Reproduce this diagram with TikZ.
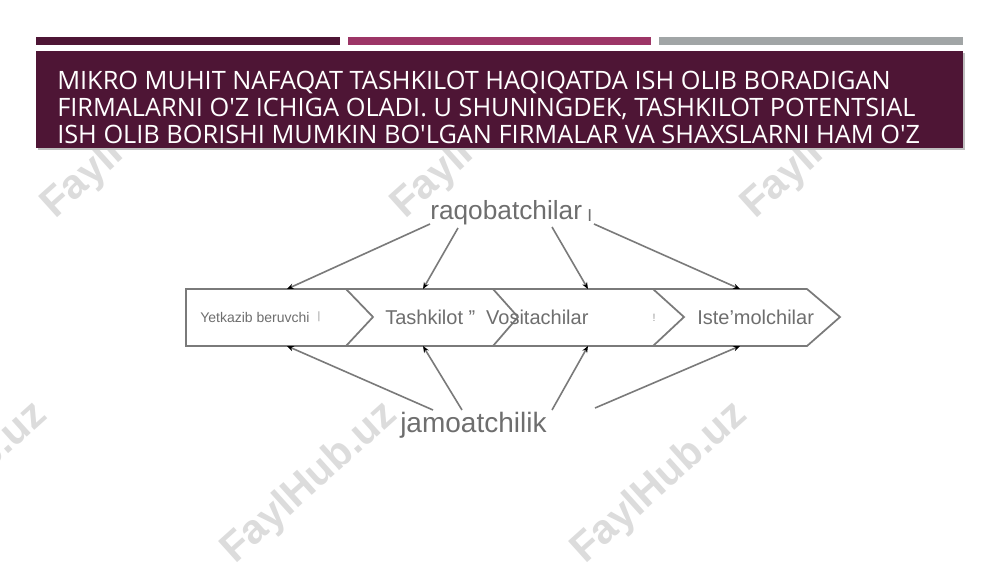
\documentclass[tikz,border=0pt]{standalone}
\usepackage{fontspec}
\setmainfont{Liberation Sans}
\newfontfamily\titlefont{Open Sans}
\newfontfamily\wmfont{Liberation Sans}
\usetikzlibrary{arrows.meta}
\definecolor{maroon}{HTML}{4E1535}
\definecolor{magbar}{HTML}{9C3566}
\definecolor{graybar}{HTML}{A1A5A6}
\definecolor{linegray}{HTML}{7A7A7A}
\definecolor{txtgray}{HTML}{6E6E6E}
\definecolor{wmgray}{HTML}{DCDCDC}
\tikzset{
  wm/.style={anchor=base west, rotate=42, text=wmgray, font=\wmfont\bfseries\fontsize{31}{31}\selectfont, inner sep=0pt},
  bigword/.style={text=txtgray, inner sep=0pt, anchor=base west},
  boxtext/.style={text=txtgray, inner sep=0pt, anchor=west},
  pipe/.style={draw=linegray, line width=1.3pt, line join=miter},
  infl/.style={draw=linegray, line width=1.2pt, -{Stealth[length=5pt,width=4pt,black]}},
  tinymark/.style={text=txtgray!70, inner sep=0pt, font=\fontsize{8}{8}\selectfont},
  titleline/.style={anchor=base west, inner sep=0pt, text=white, font=\titlefont\fontsize{19}{20.25}\selectfont}
}
\begin{document}
\begin{tikzpicture}[x=0.75pt,y=-0.75pt]
\useasboundingbox (0,0) rectangle (1000,562);
\fill[white] (0,0) rectangle (1000,562);
% watermarks
\node[wm] (w1) at (55,220) {FaylHub.uz};
\node[wm] (w2) at (405,220) {FaylHub.uz};
\node[wm] (w3) at (755,220) {FaylHub.uz};
\node[wm] (w4) at (-115,565) {FaylHub.uz};
\node[wm] (w5) at (235,565) {FaylHub.uz};
\node[wm] (w6) at (585,565) {FaylHub.uz};
% top bars
\fill[maroon] (36,37) rectangle (340,45);
\fill[magbar] (348,37) rectangle (651,45);
\fill[graybar] (659,37) rectangle (963,45);
% title box
\fill[black!25] (38,53) rectangle (965,150);
\fill[maroon] (36,51) rectangle (963,148);
\node[titleline] (title1) at (57,89) {MIKRO MUHIT NAFAQAT TASHKILOT HAQIQATDA ISH OLIB BORADIGAN};
\node[titleline] (title2) at (57,116) {FIRMALARNI O\symbol{39}Z ICHIGA OLADI. U SHUNINGDEK, TASHKILOT POTENTSIAL};
\node[titleline] (title3) at (57,143) {ISH OLIB BORISHI MUMKIN BO\symbol{39}LGAN FIRMALAR VA SHAXSLARNI HAM O\symbol{39}Z};
% pipe
\draw[pipe] (186,289) -- (807,289) -- (840,317) -- (807,346) -- (186,346) -- cycle;
\draw[pipe] (346,289) -- (373,317) -- (346,346);
\draw[pipe] (493,289) -- (518,317) -- (493,346);
\draw[pipe] (653,289) -- (684,317) -- (653,346);
% box texts
\node[boxtext, font=\fontsize{10.5}{10.5}\selectfont] (sup) at (200,317) {Yetkazib beruvchi};
\node[boxtext, font=\fontsize{15}{15}\selectfont] (org) at (385,317) {Tashkilot \symbol{34}\hspace{4pt} Vositachilar};
\node[boxtext, font=\fontsize{15}{15}\selectfont] (cons) at (697,317) {Iste\symbol{39}molchilar};
\node[tinymark] (m1) at (319,317) {|};
\node[tinymark] (m2) at (654,318) {!};
% outer words
\node[bigword, font=\fontsize{19.7}{19.7}\selectfont] (rq) at (430,219) {raqobatchilar};
\node[tinymark, text=txtgray, font=\fontsize{13}{13}\selectfont, anchor=base west] (cur) at (587,221) {I};
\node[bigword, font=\fontsize{21}{21}\selectfont] (jm) at (400,432) {jamoatchilik};
% arrow end coordinates
\coordinate (r1) at (430,224);
\coordinate (r2) at (458,228);
\coordinate (r3) at (552,227);
\coordinate (r4) at (594,224);
\coordinate (j1) at (433,410);
\coordinate (j2) at (462,410);
\coordinate (j3) at (552,410);
\coordinate (j4) at (595,408);
\coordinate (t1) at (287,289);
\coordinate (t2) at (423,289);
\coordinate (t3) at (588,289);
\coordinate (t4) at (740,289);
\coordinate (b1) at (287,346);
\coordinate (b2) at (423,346);
\coordinate (b3) at (588,346);
\coordinate (b4) at (740,346);
\draw[infl] (r1) -- (t1);
\draw[infl] (r2) -- (t2);
\draw[infl] (r3) -- (t3);
\draw[infl] (r4) -- (t4);
\draw[infl] (j1) -- (b1);
\draw[infl] (j2) -- (b2);
\draw[infl] (j3) -- (b3);
\draw[infl] (j4) -- (b4);
\end{tikzpicture}
\end{document}
